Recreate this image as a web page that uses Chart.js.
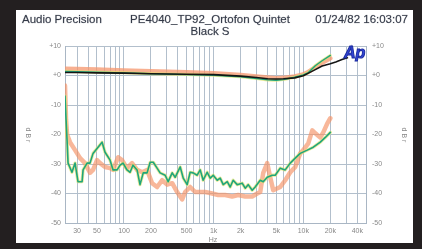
<!DOCTYPE html>
<html>
<head>
<meta charset="utf-8">
<script src="https://cdn.jsdelivr.net/npm/chart.js@4/dist/chart.umd.min.js"></script>
<style>
  body { margin: 0; background: #231f20; width: 422px; height: 249px; overflow: hidden; }
  #panel { position: absolute; left: 16px; top: 10px; width: 397px; height: 233px; background: #ffffff; }
</style>
</head>
<body>
<div id="panel"><canvas id="myChart" width="397" height="233"></canvas></div>
<script>
// frequency response (upper traces)
const respFreq   = [22, 30, 50, 100, 200, 500, 1000, 2000, 3000, 4000, 5000, 6000, 8000, 10000, 11400, 13600, 16200, 20000, 23000, 27000, 31000];
const respBlack  = [1.0, 1.0, 0.9, 0.8, 0.6, 0.4, 0.3, -0.2, -0.7, -1.1, -1.2, -1.1, -0.8, -0.1, 0.8, 2.0, 3.2, 4.0, 4.6, 5.4, 6.0];
const respGreen  = [1.4, 1.3, 1.1, 0.9, 0.6, 0.3, 0.1, -0.4, -1.0, -1.5, -1.6, -1.4, -0.6, 0.2, 1.0, 3.3, 5.0, 6.8, null, null, null];
const respOrange = [2.3, 2.2, 2.0, 1.7, 1.4, 1.1, 0.8, 0.2, -0.3, -0.7, -0.9, -0.8, -0.3, 0.4, 1.2, 2.8, 4.3, 5.8, null, null, null];

// crosstalk (lower traces)
const xtGreenFreq = [22, 22.6, 23.2, 23.8, 26.3, 28.5, 30.7, 34.1, 35, 38.8, 41.8, 45.2, 51.4, 57, 61.5, 70, 75.6, 83.8, 90.5, 97.7,
  108, 117, 126, 140, 151, 164, 181, 196, 212, 234, 253, 288, 311, 345, 372, 424, 458, 507, 547, 591,
  655, 708, 764, 847, 916, 989, 1096, 1183, 1279, 1418, 1529, 1651, 1830, 2080, 2248, 2427, 2691, 2906, 3306, 3573,
  3958, 4500, 4862, 5525, 6284, 7145, 8124, 9238, 11067, 12920, 15460, 17590, 20000];
const xtGreen = [-7, -15, -22, -29.7, -32.8, -29.7, -36, -36, -32, -29.7, -29.7, -26.4, -24.3, -22.6, -26, -28.7, -32, -32, -30.4, -29.7,
  -32, -32.8, -30.4, -32, -37, -33, -33, -29.4, -29.4, -31.4, -33, -33.8, -36, -33, -34.5, -31, -34.8, -37, -32.8, -33,
  -33.8, -32, -35.5, -32.8, -34.8, -33.8, -35.5, -34.8, -37, -36, -37.8, -35.5, -37, -36.5, -38.2, -37, -38.9, -37.8, -35.5, -36,
  -34.5, -33.8, -33.8, -31.4, -32, -29.7, -28, -26.4, -25.3, -24.3, -22.6, -21, -19.3];

const xtOrangeFreq = [22, 22.6, 23.2, 25, 28.5, 32.4, 36.8, 41.8, 45.2, 50.1, 54.1, 61.5, 70, 75.6, 86, 95.2, 108, 123, 140, 160,
  181, 206, 234, 267, 303, 345, 392, 446, 481, 547, 622, 708, 805, 964, 1125, 1346, 1609, 1878, 2248, 2691,
  3060, 3306, 3573, 3958, 4276, 4617, 5525, 6284, 7145, 8124, 9238, 9979, 11360, 12590, 13600, 15460, 16700, 18520, 20000];
const xtOrange = [-3.4, -15, -20, -22.6, -25.3, -28, -29.7, -33, -32, -28.7, -29.7, -31, -31.4, -32, -27.7, -28.7, -31.4, -29.7, -32, -32.8,
  -32, -36.5, -37.8, -35.5, -37, -36.5, -39.5, -42, -39.5, -37.8, -39.5, -39.5, -39.5, -40, -40.5, -40.5, -41, -40.5, -41, -41,
  -40, -39.5, -33, -29.7, -34.5, -38.9, -37.8, -35.5, -32.8, -31, -26.4, -25.3, -23, -18.6, -19.6, -21, -19.3, -16.2, -14.5];

// axes
const gridFreqs = [30, 40, 50, 60, 70, 80, 90, 100, 200, 300, 400, 500, 600, 700, 800, 900,
  1000, 2000, 3000, 4000, 5000, 6000, 7000, 8000, 9000, 10000, 20000, 30000, 40000, 50000];
const xLabelFreqs = [30, 50, 100, 200, 500, 1000, 2000, 5000, 10000, 20000, 40000];
const xLabelTexts = ['30', '50', '100', '200', '500', '1k', '2k', '5k', '10k', '20k', '40k'];
const yTickValues = [10, 0, -10, -20, -30, -40, -50];
const yTickTexts = ['+10', '+0', '-10', '-20', '-30', '-40', '-50'];

function pts(fs, vs) {
    let out = [];
    for (let i = 0; i < fs.length; i++) {
        if (vs[i] !== null) out.push({x: fs[i], y: vs[i]});
    }
    return out;
}

function yLabel(v) {
    let i = yTickValues.indexOf(v);
    return i >= 0 ? yTickTexts[i] : '';
}

const textPlugin = {
    id: 'apText',
    afterDraw(chart) {
        const ctx = chart.ctx;
        ctx.save();
        ctx.fillStyle = '#343a48';
        ctx.strokeStyle = 'rgba(52,58,72,0.35)';
        ctx.lineWidth = 0.5;
        ctx.font = '11.5px "Liberation Sans", Arial, sans-serif';
        ctx.textBaseline = 'alphabetic';
        const titles = [['Audio Precision', 6, 13, 'left'], ['PE4040_TP92_Ortofon Quintet', 194, 13, 'center'],
                        ['Black S', 194, 25, 'center'], ['01/24/82 16:03:07', 392, 13, 'right']];
        for (const t of titles) {
            ctx.textAlign = t[3];
            ctx.fillText(t[0], t[1], t[2]);
            ctx.strokeText(t[0], t[1], t[2]);
        }

        ctx.fillStyle = '#888';
        ctx.font = '7px "Liberation Sans", Arial, sans-serif';
        ctx.textAlign = 'center';
        ctx.fillText('Hz', 197, 232);
        for (const xx of [12, 388]) {
            ctx.save();
            ctx.translate(xx, 125);
            ctx.rotate(Math.PI / 2);
            ctx.fillText('d B r', 0, 2);
            ctx.restore();
        }

        ctx.font = 'italic bold 16px "Liberation Sans", Arial, sans-serif';
        ctx.textAlign = 'left';
        ctx.lineWidth = 1;
        ctx.strokeStyle = '#1a2aa0';
        ctx.fillStyle = '#3346d8';
        ctx.fillText('Ap', 328, 48);
        ctx.strokeText('Ap', 328, 48);
        ctx.restore();
    }
};

const ctx = document.getElementById('myChart').getContext('2d');
const myChart = new Chart(ctx, {
    type: 'line',
    data: {
        datasets: [
            { data: pts(respFreq, respBlack), borderColor: '#151515', borderWidth: 1.6, order: 0 },
            { data: pts(respFreq, respGreen), borderColor: '#1fa57c', borderWidth: 1.4, order: 1 },
            { data: pts(respFreq, respGreen), borderColor: 'rgba(225,225,110,0.7)', borderWidth: 3, order: 2 },
            { data: pts(respFreq, respOrange), borderColor: 'rgba(245,150,108,0.75)', borderWidth: 4.5, order: 3 },
            { data: pts(xtGreenFreq, xtGreen), borderColor: '#1fa57c', borderWidth: 1.6, order: 1 },
            { data: pts(xtGreenFreq, xtGreen), borderColor: 'rgba(225,225,110,0.7)', borderWidth: 3.2, order: 2 },
            { data: pts(xtOrangeFreq, xtOrange), borderColor: 'rgba(245,145,100,0.65)', borderWidth: 4.5, order: 3 }
        ]
    },
    options: {
        responsive: false,
        animation: false,
        layout: { padding: { top: 36, left: 0, right: 0, bottom: 0 } },
        elements: { point: { radius: 0 }, line: { tension: 0, borderJoinStyle: 'round', borderCapStyle: 'round' } },
        plugins: { legend: { display: false }, tooltip: { enabled: false } },
        scales: {
            x: {
                type: 'logarithmic',
                min: 22,
                max: 50000,
                bounds: 'data',
                afterBuildTicks: (scale) => { scale.ticks = gridFreqs.map(v => ({value: v})); },
                afterFit: (scale) => { scale.height = 20; },
                grid: { color: '#b2bfcc', lineWidth: 1, drawTicks: false },
                border: { color: '#a9b6c4' },
                ticks: {
                    autoSkip: false, maxRotation: 0, padding: 4,
                    color: '#888', font: { size: 7, family: '"Liberation Sans", Arial, sans-serif' },
                    callback: (v) => { let i = xLabelFreqs.indexOf(v); return i >= 0 ? xLabelTexts[i] : ''; }
                }
            },
            y: {
                position: 'left',
                min: -50,
                max: 10,
                afterFit: (scale) => { scale.width = 49; },
                grid: { color: '#b2bfcc', lineWidth: 1, drawTicks: false },
                border: { color: '#a9b6c4' },
                ticks: {
                    stepSize: 10, padding: 4,
                    color: '#888', font: { size: 7, family: '"Liberation Sans", Arial, sans-serif' },
                    callback: yLabel
                }
            },
            y2: {
                position: 'right',
                min: -50,
                max: 10,
                afterFit: (scale) => { scale.width = 47; },
                grid: { display: false, drawTicks: false },
                border: { color: '#a9b6c4' },
                ticks: {
                    stepSize: 10, padding: 6,
                    color: '#888', font: { size: 7, family: '"Liberation Sans", Arial, sans-serif' },
                    callback: yLabel
                }
            }
        }
    },
    plugins: [textPlugin]
});
</script>
</body>
</html>
